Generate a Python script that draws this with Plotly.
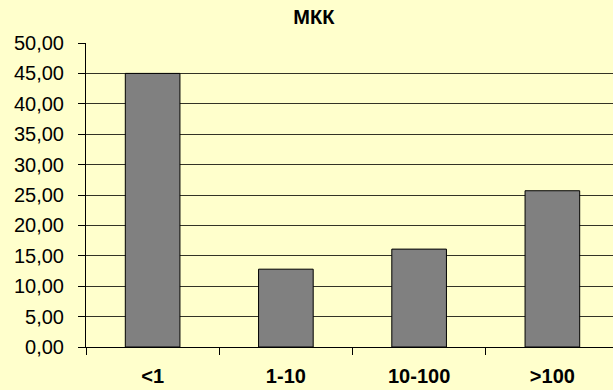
import html
import plotly.graph_objects as go

# Share of results per concentration range
categories = ["<1", "1-10", "10-100", ">100"]
values = [45.0, 12.8, 16.1, 25.7]
chart_title = "МКК"
y_ticks = [0, 5, 10, 15, 20, 25, 30, 35, 40, 45, 50]

bg = "#FFFFCC"
font_family = "Arial, 'Liberation Sans', sans-serif"
positions = list(range(len(categories)))

fig = go.Figure(
    go.Bar(
        x=positions,
        y=values,
        width=0.41,
        marker=dict(color="#808080", line=dict(color="#000000", width=1)),
        hoverinfo="x+y",
    )
)

fig.update_layout(
    width=613,
    height=390,
    margin=dict(l=86, r=0, t=43, b=43),
    paper_bgcolor=bg,
    plot_bgcolor=bg,
    separators=", ",
    showlegend=False,
    font=dict(family=font_family, size=20, color="#000000"),
    title=dict(
        text="<b>" + chart_title + "</b>",
        x=0.512,
        xanchor="center",
        y=1 - 17 / 390,
        yanchor="middle",
        font=dict(family=font_family, size=20, color="#000000"),
    ),
)

fig.update_xaxes(
    range=[-0.5, len(categories) - 0.545],
    tickmode="array",
    tickvals=positions,
    ticktext=[html.escape(c) for c in categories],
    ticks="",
    tickfont=dict(family=font_family, size=20, weight="bold"),
    ticklabelstandoff=11,
    automargin=False,
    showgrid=False,
    zeroline=False,
    showline=True,
    linecolor="#000000",
    linewidth=1,
    minor=dict(
        tickmode="array",
        tickvals=[p - 0.5 for p in positions],
        ticks="outside",
        ticklen=7,
        tickcolor="#000000",
        tickwidth=1,
        showgrid=False,
    ),
)

fig.update_yaxes(
    range=[0, 50],
    tickmode="array",
    tickvals=y_ticks,
    tickformat=".2f",
    ticks="outside",
    ticklen=7,
    tickcolor="#000000",
    ticklabelstandoff=10,
    automargin=False,
    showgrid=True,
    gridcolor="#333326",
    gridwidth=1.3,
    zeroline=False,
    showline=True,
    linecolor="#000000",
    linewidth=1,
)

fig.write_html("out.html")
